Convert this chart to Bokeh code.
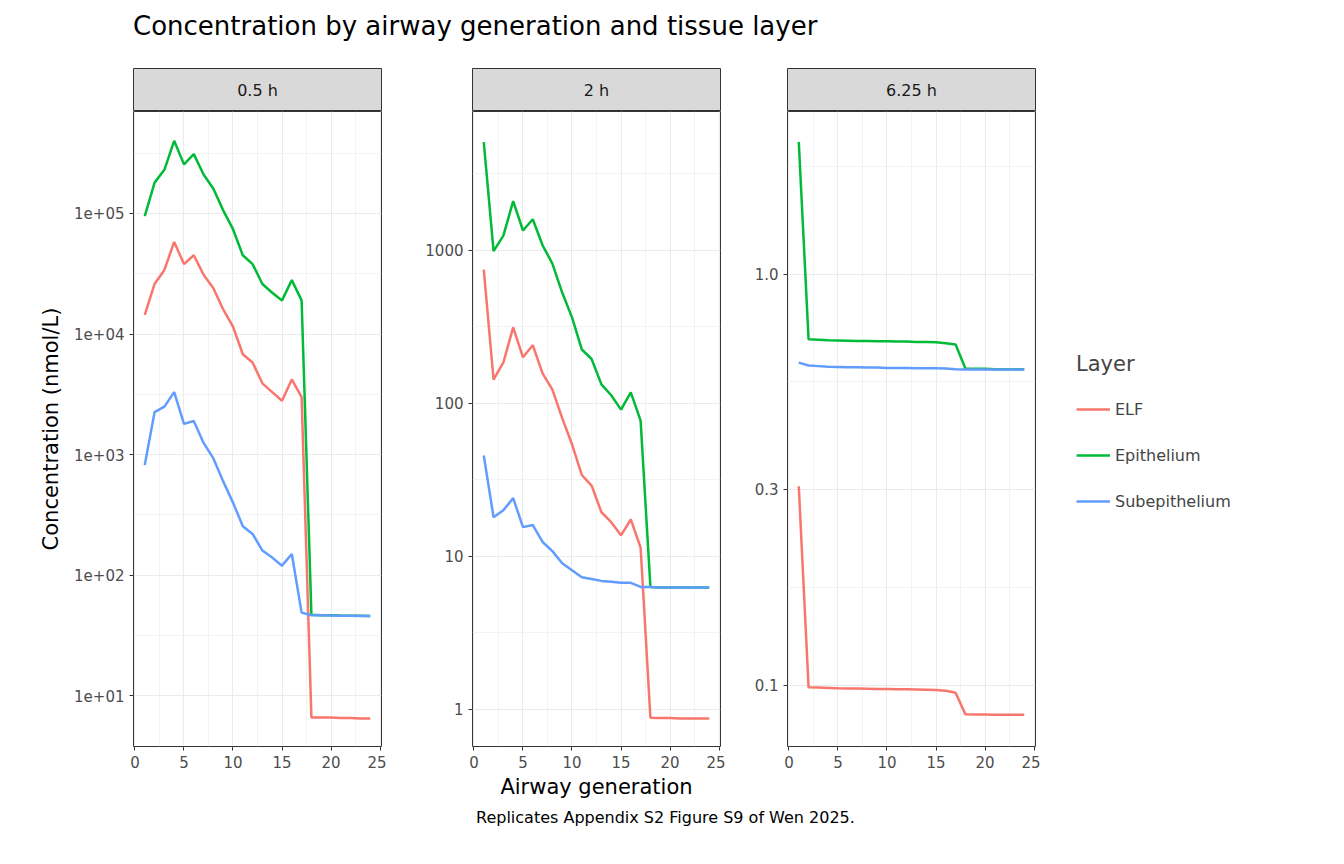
from bokeh.plotting import figure
from bokeh.layouts import column, row
from bokeh.models import Div, Range1d, FixedTicker, Legend, LegendItem, Spacer
from bokeh.embed import file_html
from bokeh.resources import INLINE
from bokeh.core.properties import value

gen = list(range(1, 25))
panels = ["0.5 h", "2 h", "6.25 h"]
layers = ["ELF", "Epithelium", "Subepithelium"]
colors = ["#F8766D", "#00BA38", "#619CFF"]

elf_05 = [1.44e4, 2.6e4, 3.4e4, 5.8e4, 3.8e4, 4.5e4, 3.1e4, 2.4e4, 1.6e4, 1.15e4, 6.8e3, 5.8e3,
          3.9e3, 3.3e3, 2.8e3, 4.2e3, 3.0e3, 6.6, 6.6, 6.6, 6.55, 6.55, 6.5, 6.5]
epi_05 = [9.5e4, 1.8e5, 2.3e5, 4.0e5, 2.55e5, 3.1e5, 2.1e5, 1.6e5, 1.06e5, 7.4e4, 4.5e4, 3.8e4,
          2.6e4, 2.2e4, 1.9e4, 2.8e4, 1.9e4, 47, 46.5, 46.5, 46.3, 46.2, 46.1, 46]
sub_05 = [820, 2250, 2500, 3300, 1800, 1900, 1250, 930, 600, 400, 255, 220,
          160, 140, 120, 150, 49, 46.5, 46.5, 46.3, 46.2, 46.1, 46, 46]
elf_2 = [750, 143, 185, 314, 200, 240, 157, 123, 80, 54, 34, 29,
         19.4, 16.7, 13.7, 17.4, 11.4, 0.88, 0.875, 0.875, 0.87, 0.87, 0.87, 0.87]
epi_2 = [5100, 990, 1250, 2100, 1350, 1600, 1080, 820, 530, 365, 225, 195,
         133, 113, 91, 118, 77, 6.3, 6.25, 6.25, 6.25, 6.25, 6.25, 6.25]
sub_2 = [45.6, 18, 20, 24, 15.5, 16, 12.4, 10.8, 9.0, 8.1, 7.3, 7.1,
         6.9, 6.8, 6.7, 6.7, 6.3, 6.3, 6.25, 6.25, 6.25, 6.25, 6.25, 6.25]
elf_625 = [0.305, 0.099, 0.0988, 0.0986, 0.0984, 0.0983, 0.0982, 0.0981, 0.098, 0.098, 0.0979, 0.0978,
           0.0977, 0.0976, 0.0975, 0.097, 0.096, 0.085, 0.0849, 0.0849, 0.0848, 0.0848, 0.0848, 0.0848]
epi_625 = [2.1, 0.695, 0.693, 0.691, 0.69, 0.689, 0.688, 0.688, 0.687, 0.687, 0.686, 0.686,
           0.685, 0.685, 0.684, 0.68, 0.675, 0.59, 0.589, 0.589, 0.588, 0.588, 0.588, 0.588]
sub_625 = [0.61, 0.6, 0.598, 0.596, 0.595, 0.594, 0.594, 0.593, 0.593, 0.592, 0.592, 0.592,
           0.591, 0.591, 0.591, 0.59, 0.588, 0.587, 0.587, 0.587, 0.587, 0.587, 0.587, 0.587]

data = [[elf_05, epi_05, sub_05], [elf_2, epi_2, sub_2], [elf_625, epi_625, sub_625]]
yranges = [(3.8, 7.0e5), (0.57, 8.1e3), (0.071, 2.49)]
yticks = [[10, 100, 1000, 1e4, 1e5], [1, 10, 100, 1000], [0.1, 0.3, 1.0]]
ylabels = [["1e+01", "1e+02", "1e+03", "1e+04", "1e+05"], ["1", "10", "100", "1000"], ["0.1", "0.3", "1.0"]]
yminor = [[3.162, 31.62, 316.2, 3162, 31623, 316228], [0.3162, 3.162, 31.62, 316.2, 3162],
          [0.173, 0.548, 1.826]]

FONT = "DejaVu Sans"
FW, FH = 248, 635
lefts = [133, 86, 62]

cols = []
legend_items = []
for i in range(3):
    s = figure(frame_width=FW, frame_height=43, x_range=Range1d(0, 1), y_range=Range1d(0, 1),
               output_backend="svg", toolbar_location=None, min_border_left=lefts[i],
               min_border_right=5, min_border_top=0, min_border_bottom=0)
    s.axis.visible = False
    s.grid.visible = False
    s.outline_line_color = "#333333"
    s.background_fill_color = "#D9D9D9"
    s.text(x=[0.5], y=[0.5], text=[panels[i]], text_align="center", text_baseline="middle",
           text_font=value(FONT), text_font_size="16px", text_color="#1A1A1A")

    p = figure(frame_width=FW, frame_height=FH, y_axis_type="log",
               x_range=Range1d(-0.15, 25.15), y_range=Range1d(*yranges[i]),
               output_backend="svg", toolbar_location=None, min_border_left=lefts[i],
               min_border_right=5, min_border_top=0, min_border_bottom=5)
    for j in range(3):
        p.line(gen, data[i][j], line_color=colors[j], line_width=2.5)
    p.xaxis.ticker = FixedTicker(ticks=[0, 5, 10, 15, 20, 25], minor_ticks=[2.5, 7.5, 12.5, 17.5, 22.5])
    p.yaxis.ticker = FixedTicker(ticks=yticks[i], minor_ticks=yminor[i])
    p.yaxis.major_label_overrides = {t: l for t, l in zip(yticks[i], ylabels[i])}
    p.outline_line_color = "#333333"
    p.grid.grid_line_color = "#EBEBEB"
    p.grid.minor_grid_line_color = "#EBEBEB"
    p.grid.minor_grid_line_width = 0.6
    p.grid.grid_line_width = 1.1
    for ax in (p.xaxis, p.yaxis):
        ax.axis_line_color = None
        ax.major_tick_line_color = "#333333"
        ax.major_tick_in = 0
        ax.major_tick_out = 4
        ax.minor_tick_line_color = None
        ax.major_label_text_font = FONT
        ax.major_label_text_font_size = "15px"
        ax.major_label_text_color = "#4D4D4D"
        ax.axis_label_text_font = FONT
        ax.axis_label_text_font_size = "21px"
        ax.axis_label_text_font_style = "normal"
        ax.axis_label_text_color = "black"
    if i == 0:
        p.yaxis.axis_label = "Concentration (nmol/L)"
        p.yaxis.axis_label_standoff = 8
    if i == 1:
        p.xaxis.axis_label = "Airway generation"
        p.xaxis.axis_label_standoff = 4
    cols.append(column(s, p, spacing=0))

# legend in its own figure
lf = figure(width=280, height=FH, x_range=Range1d(0, 1), y_range=Range1d(0, 1),
            output_backend="svg", toolbar_location=None, min_border=0)
lf.axis.visible = False
lf.grid.visible = False
lf.outline_line_color = None
for j in range(3):
    r = lf.line([float("nan"), float("nan")], [float("nan"), float("nan")], line_color=colors[j], line_width=2.5)
    legend_items.append(LegendItem(label=layers[j], renderers=[r]))
leg = Legend(items=legend_items, title="Layer", location=(36, 222),
             title_text_font=FONT, title_text_font_size="21px", title_text_font_style="normal",
             label_text_font=FONT, label_text_font_size="16px",
             glyph_width=34, glyph_height=46, label_height=46, spacing=0,
             border_line_color=None, background_fill_alpha=0, padding=5, title_standoff=10)
lf.add_layout(leg)
legcol = column(Spacer(width=280, height=43), lf, spacing=0)

title = Div(text="Concentration by airway generation and tissue layer",
            styles={"font-family": FONT, "font-size": "26px", "color": "black",
                    "margin-left": "133px", "margin-top": "8px"}, width=1200, height=55)
caption = Div(text="Replicates Appendix S2 Figure S9 of Wen 2025.",
              styles={"font-family": FONT, "font-size": "16px", "color": "black",
                      "margin-left": "476px", "margin-top": "6px"}, width=1200, height=30)

layout = column(title, row(*cols, legcol, spacing=0), caption, spacing=0)
open("out.html", "w").write(file_html(layout, INLINE))
